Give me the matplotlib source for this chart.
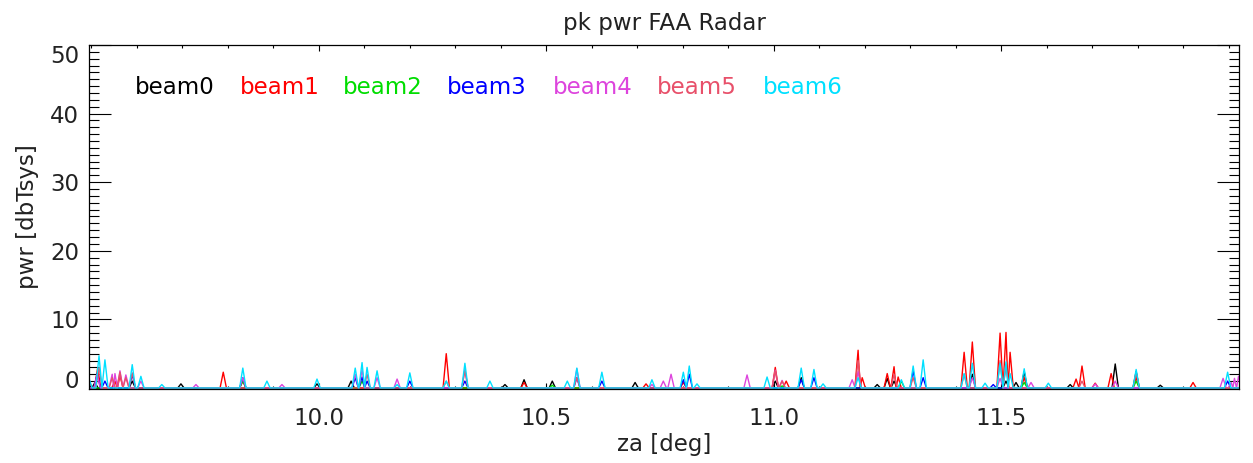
import matplotlib
matplotlib.use("Agg")
import matplotlib.pyplot as plt
from matplotlib.ticker import MultipleLocator, FixedLocator, FormatStrFormatter

# ---------------- data (peak positions / heights) ----------------
beam_names = ["beam0", "beam1", "beam2", "beam3", "beam4", "beam5", "beam6"]
beam_colors = ["#000000", "#ff0000", "#00dd00", "#0000ff", "#dd44dd", "#e8506a", "#00e0ff"]
x_major_ticks = [10.0, 10.5, 11.0, 11.5]

beam0_za = [9.495, 9.508, 9.590, 9.697, 9.996, 10.071, 10.409, 10.451, 10.513, 10.695, 11.003,
            11.060, 11.227, 11.249, 11.264, 11.436, 11.510, 11.532, 11.550, 11.651, 11.750,
            11.796, 11.849]
beam0_pwr = [0.5, 0.8, 1.0, 0.6, 0.6, 1.0, 0.5, 1.2, 1.0, 0.8, 1.0,
             1.5, 0.5, 1.4, 1.0, 2.0, 1.0, 0.8, 2.4, 0.5, 3.5,
             2.4, 0.4]

beam1_za = [9.514, 9.552, 9.563, 9.790, 9.833, 10.280, 10.451, 10.719, 10.801, 11.003, 11.027,
            11.185, 11.194, 11.249, 11.264, 11.273, 11.418, 11.436, 11.497, 11.510, 11.519,
            11.550, 11.664, 11.677, 11.706, 11.741, 11.796, 11.921]
beam1_pwr = [2.9, 1.0, 1.8, 2.3, 1.0, 5.0, 0.8, 0.6, 0.8, 3.0, 1.0,
             5.5, 1.5, 2.1, 3.1, 1.6, 5.2, 6.7, 8.0, 8.1, 5.2,
             1.5, 1.3, 3.2, 0.7, 2.1, 1.5, 0.8]

beam2_za = [9.833, 10.095, 10.513, 11.018, 11.280, 11.550, 11.796]
beam2_pwr = [1.0, 1.0, 0.4, 0.3, 1.0, 0.8, 1.0]

beam3_za = [9.513, 9.530, 9.590, 9.833, 10.080, 10.095, 10.106, 10.200, 10.321, 10.567, 10.622,
            10.801, 10.814, 11.060, 11.088, 11.306, 11.328, 11.482, 11.997]
beam3_pwr = [2.1, 1.0, 2.0, 1.5, 1.5, 1.6, 1.0, 1.0, 1.0, 1.5, 1.0,
             1.2, 2.0, 1.2, 1.5, 2.5, 1.5, 0.5, 1.0]

beam4_za = [9.513, 9.546, 9.552, 9.563, 9.576, 9.609, 9.730, 9.833, 9.919, 10.080, 10.095,
            10.128, 10.172, 10.321, 10.567, 10.732, 10.757, 10.774, 10.941, 11.003, 11.018,
            11.172, 11.185, 11.436, 11.497, 11.565, 11.706, 11.750, 11.987, 12.005, 12.012,
            12.021]
beam4_pwr = [2.0, 2.0, 2.1, 2.5, 1.9, 1.0, 0.5, 1.5, 0.5, 2.0, 2.6,
             1.5, 1.3, 2.7, 2.8, 0.5, 1.0, 2.0, 1.9, 2.6, 1.1,
             1.2, 2.4, 1.5, 1.4, 0.8, 0.6, 1.0, 1.4, 0.8, 1.4,
             1.7]

beam5_za = [9.495, 9.517, 9.546, 9.563, 9.576, 9.590, 10.106, 10.280, 10.321, 10.567, 11.003,
            11.018, 11.185, 11.264, 11.306, 11.418, 11.497, 11.510, 11.677, 11.796]
beam5_pwr = [1.0, 3.0, 1.5, 2.3, 1.5, 2.2, 2.0, 1.0, 2.5, 1.5, 2.5,
             1.0, 4.0, 2.0, 1.5, 2.0, 4.0, 3.0, 1.0, 2.3]

beam6_za = [9.495, 9.517, 9.530, 9.590, 9.609, 9.655, 9.833, 9.886, 9.996, 10.080, 10.095,
            10.106, 10.128, 10.172, 10.200, 10.280, 10.321, 10.376, 10.546, 10.567, 10.622,
            10.732, 10.801, 10.814, 10.831, 10.985, 11.060, 11.088, 11.108, 11.185, 11.280,
            11.306, 11.328, 11.418, 11.436, 11.464, 11.497, 11.510, 11.519, 11.550, 11.603,
            11.796, 11.997]
beam6_pwr = [1.4, 4.7, 4.1, 3.4, 1.7, 0.5, 2.9, 1.0, 1.3, 2.9, 3.7,
             3.0, 2.5, 0.5, 2.2, 1.0, 3.6, 1.0, 1.0, 2.9, 2.3,
             1.2, 2.3, 3.2, 0.6, 1.6, 2.9, 2.7, 0.6, 1.5, 1.2,
             3.2, 4.1, 2.1, 3.6, 0.7, 3.6, 3.8, 2.1, 2.8, 0.7,
             2.7, 2.3]

beam_za = [beam0_za, beam1_za, beam2_za, beam3_za, beam4_za, beam5_za, beam6_za]
beam_pwr = [beam0_pwr, beam1_pwr, beam2_pwr, beam3_pwr, beam4_pwr, beam5_pwr, beam6_pwr]

XMIN, XMAX = 9.495, 12.022
YMIN, YMAX = -0.15, 50.0
HALF_W = 0.007  # peak half-width (drawing style)


def trace(za, pwr):
    xs, ys = [XMIN], [0.0]
    n = len(za)
    for i in range(n):
        x, h = za[i], pwr[i]
        if x - HALF_W > xs[-1]:
            xs.append(x - HALF_W); ys.append(0.0)
        xs.append(x); ys.append(h)
        if i + 1 < n and za[i + 1] - x <= 2 * HALF_W:
            xs.append((x + za[i + 1]) / 2); ys.append(0.0)
        else:
            xs.append(x + HALF_W); ys.append(0.0)
    xs.append(XMAX); ys.append(0.0)
    return xs, ys


plt.rcParams['font.family'] = ['DejaVu Sans']
TXT = "#222222"
FS = 16.5

fig = plt.figure(figsize=(12.53, 4.63), dpi=100)
ax = fig.add_axes([89 / 1253, 1 - 389 / 463, 1150 / 1253, 344 / 463])

for za, pwr, c in zip(beam_za, beam_pwr, beam_colors):
    xs, ys = trace(za, pwr)
    ax.plot(xs, ys, color=c, lw=1.0, clip_on=True)

ax.set_xlim(XMIN, XMAX)
ax.set_ylim(YMIN, YMAX)

ax.xaxis.set_major_locator(FixedLocator(x_major_ticks))
ax.xaxis.set_minor_locator(MultipleLocator(0.1))
ax.yaxis.set_major_locator(MultipleLocator(10))
ax.yaxis.set_minor_locator(MultipleLocator(1))
ax.xaxis.set_major_formatter(FormatStrFormatter('%.1f'))

ax.tick_params(axis='both', which='both', direction='in', top=True, right=True,
               color='black', width=0.8, labelsize=FS, labelcolor=TXT)
ax.tick_params(axis='y', which='major', length=16, pad=7)
ax.tick_params(axis='y', which='minor', length=7.5)
ax.tick_params(axis='x', which='major', length=4.5, pad=13)
ax.tick_params(axis='x', which='minor', length=2.3)
for s in ax.spines.values():
    s.set_linewidth(0.9)

fig.canvas.draw()
for t in ax.get_yticklabels():
    if t.get_text() == '0':
        t.set_verticalalignment('baseline')
    if t.get_text() == '50':
        t.set_verticalalignment('top')

ax.set_title("pk pwr FAA Radar", fontsize=FS, color=TXT, pad=11)
ax.set_xlabel("za [deg]", fontsize=FS, color=TXT, labelpad=2)
ax.set_ylabel("pwr [dbTsys]", fontsize=FS, color=TXT, labelpad=8)

legend_x = [135, 240, 343, 447, 553, 657, 763]
for name, c, px in zip(beam_names, beam_colors, legend_x):
    ax.text((px - 89) / 1150, (389 - 88) / 344, name, color=c, fontsize=FS,
            transform=ax.transAxes, ha='left', va='center')

fig.savefig("out.png", dpi=100)
